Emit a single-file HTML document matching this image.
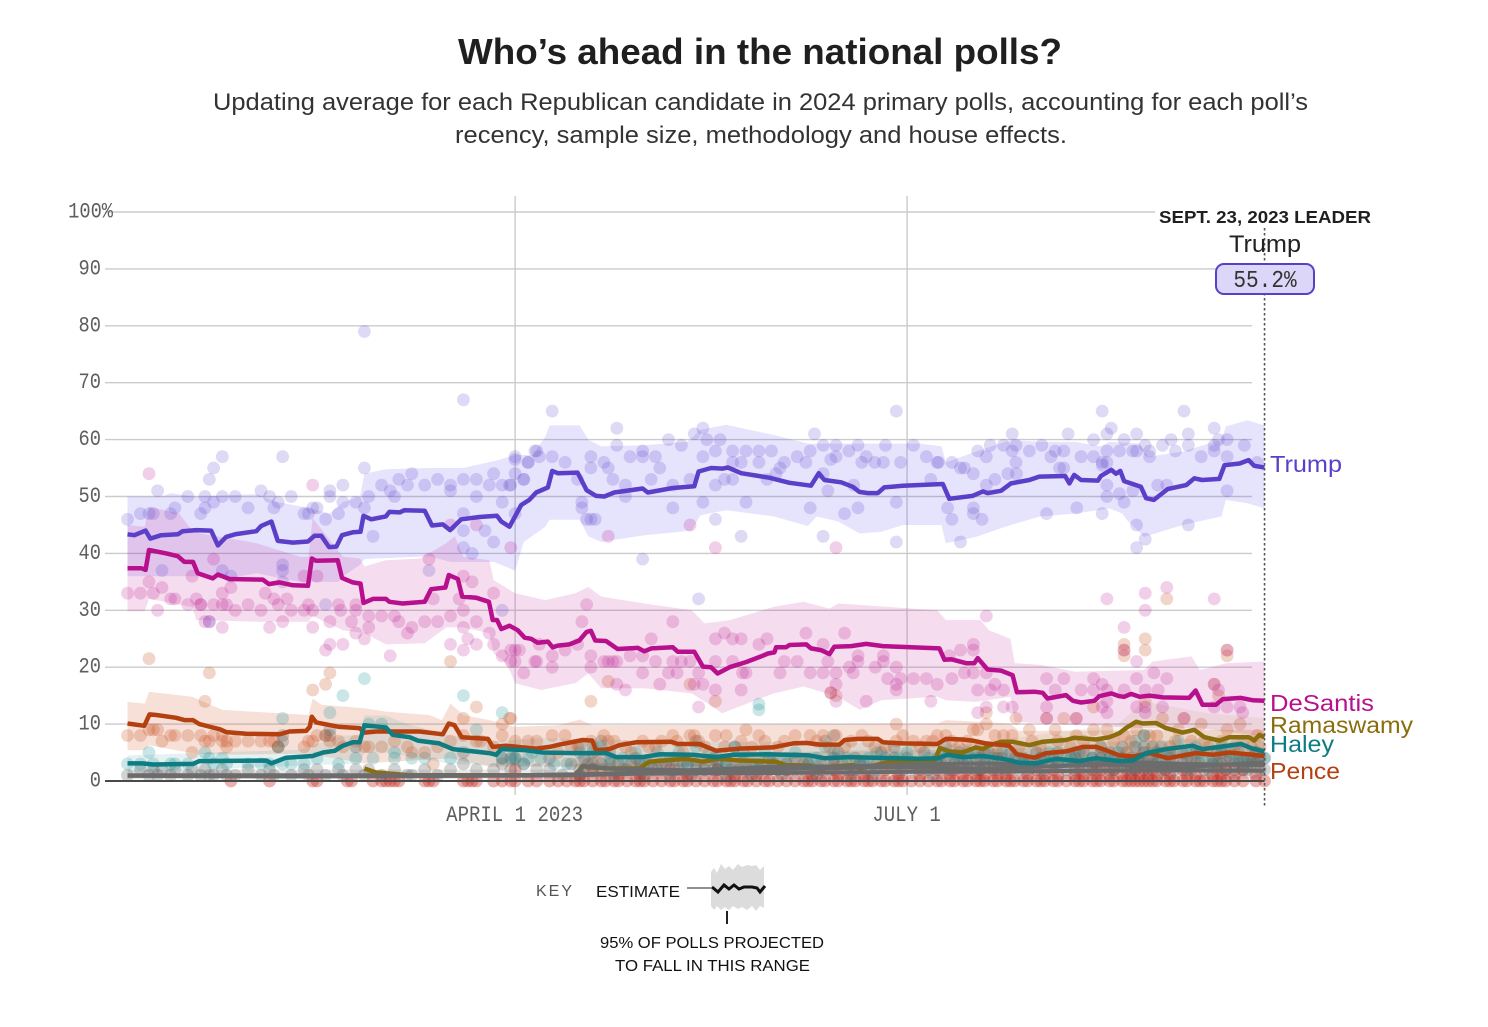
<!DOCTYPE html>
<html lang="en">
<head>
<meta charset="utf-8">
<title>Who's ahead in the national polls?</title>
<style>
html,body{margin:0;padding:0;background:#fff;}
svg{display:block;}
text{font-family:"Liberation Sans",sans-serif;}
.mono{font-family:"Liberation Mono",monospace;}
</style>
</head>
<body>
<svg id="chart" xmlns="http://www.w3.org/2000/svg" width="1488" height="1027" viewBox="0 0 1488 1027">
<text x="458" y="64" font-size="36" font-weight="700" fill="#1f1f1f" textLength="604" lengthAdjust="spacingAndGlyphs">Who’s ahead in the national polls?</text>
<text x="213" y="110" font-size="24" fill="#333" textLength="1095" lengthAdjust="spacingAndGlyphs">Updating average for each Republican candidate in 2024 primary polls, accounting for each poll’s</text>
<text x="455" y="143" font-size="24" fill="#333" textLength="612" lengthAdjust="spacingAndGlyphs">recency, sample size, methodology and house effects.</text>
<g id="grid"></g>
<g id="bands"></g>
<g id="dots"></g>
<g id="lines"></g>
<g id="axis"></g>
<g>
<rect x="1155" y="205" width="220" height="22" fill="#fff"/>
<text x="1159" y="223" font-size="17.5" font-weight="700" fill="#1f1f1f" textLength="212" lengthAdjust="spacingAndGlyphs">SEPT. 23, 2023 LEADER</text>
<text x="1229" y="252" font-size="24" fill="#222" textLength="72" lengthAdjust="spacingAndGlyphs">Trump</text>
<rect x="1216" y="264" width="98" height="30" rx="8" ry="8" fill="#dcd7f8" stroke="#5b3fc8" stroke-width="2"/>
<text class="mono" transform="translate(1265,287) scale(.88,1)" font-size="24" fill="#333" text-anchor="middle">55.2%</text>
</g>
<g>
<text x="1270" y="472" font-size="23.5" fill="#5b3fc8" textLength="72" lengthAdjust="spacingAndGlyphs">Trump</text>
<text x="1270" y="711" font-size="23.5" fill="#b8108c" textLength="104" lengthAdjust="spacingAndGlyphs">DeSantis</text>
<text x="1270" y="733" font-size="23.5" fill="#8a6d0c" textLength="143" lengthAdjust="spacingAndGlyphs">Ramaswamy</text>
<text x="1270" y="752" font-size="23.5" fill="#0e7c80" textLength="64" lengthAdjust="spacingAndGlyphs">Haley</text>
<text x="1270" y="779" font-size="23.5" fill="#b5400f" textLength="70" lengthAdjust="spacingAndGlyphs">Pence</text>
</g>
<g>
<text x="536" y="896" font-size="16" fill="#555" textLength="36">KEY</text>
<text x="596" y="897" font-size="16" fill="#111" textLength="84" lengthAdjust="spacingAndGlyphs">ESTIMATE</text>
<line x1="687" y1="888" x2="711" y2="888" stroke="#222" stroke-width="1"/>
<polygon points="711,872 714,868 717,873 721,864 725,869 729,866 733,870 738,864 742,867 747,865 752,866 756,865 760,870 764,866 764,908 760,906 756,911 752,906 747,910 742,907 738,909 733,906 729,910 725,907 721,910 717,906 714,910 711,906" fill="#dcdcdc"/>
<polyline points="712,887 718,892 724,885 729,889 734,885 739,889 744,887 752,887 757,888 760,892 765,886" fill="none" stroke="#111" stroke-width="3"/>
<line x1="727" y1="911" x2="727" y2="924" stroke="#222" stroke-width="2"/>
<text x="600" y="948" font-size="16" fill="#111" textLength="224" lengthAdjust="spacingAndGlyphs">95% OF POLLS PROJECTED</text>
<text x="615" y="971" font-size="16" fill="#111" textLength="195" lengthAdjust="spacingAndGlyphs">TO FALL IN THIS RANGE</text>
</g>
</svg>
<script>
// Days are counted from Jan. 1, 2023. Values are percent support.
const yTickValues = [0,10,20,30,40,50,60,70,80,90,100];
const yTickLabels = ['0','10','20','30','40','50','60','70','80','90','100%'];
const xTickDays = [90,181];
const xTickLabels = ['APRIL 1 2023','JULY 1'];
const domainEndDay = 264;

const trumpTrend = [[0,43.35],[1.6,43.2],[4.2,44],[5.3,42.6],[7.8,43.2],[11.7,43.35],[12.8,43.9],[16,44.1],[19.4,44],[21,41.4],[22.9,42.9],[25.2,43.4],[29.9,43.9],[31,44.8],[33.4,45.6],[34.9,42.2],[38.4,41.9],[41.9,42.1],[43.4,43.1],[45,43.1],[46.8,41.1],[48.5,41.2],[49.8,43.2],[52.3,43.7],[54.1,43.8],[54.8,46.6],[56.6,46],[60,46.5],[60.8,47.3],[63.2,47.2],[64.3,47.6],[69,47.5],[70.7,44.9],[73.2,45.1],[74.9,44.1],[77.5,46],[81.7,46.4],[85.8,46.6],[86.8,45.6],[88.7,44.7],[91.4,48.5],[93.3,49.4],[94.9,50.7],[97.6,51.6],[98.6,54.5],[99.9,54.1],[104.5,54.2],[106.6,51.1],[108.8,50.1],[110.7,50],[113,50.7],[119.6,51.4],[120.8,50.7],[126.6,51.5],[131.6,51.8],[132.6,54.4],[135.5,55],[138.2,54.9],[139.4,55.1],[142.5,54.1],[149,53.3],[153.7,52.4],[158.7,51.9],[160.5,54.1],[161.8,52.9],[165.7,52.5],[168.4,51.7],[169.9,50.8],[171.9,50.6],[174.2,50.6],[175.7,51.6],[180,51.9],[189.3,52.2],[190.8,49.6],[196.2,50.1],[198.6,50.9],[199.7,50.6],[202.8,51],[205.1,52.3],[209.4,52.9],[211.7,53.5],[217.7,53.6],[218.7,52.3],[219.8,53.8],[221.4,52.9],[225.3,52.8],[226,53.6],[228.4,54.7],[229.5,54],[230.5,54.5],[231.4,52.7],[235.3,51.7],[236.5,49.7],[238.3,49.4],[241.5,51.3],[245.8,52],[247.7,53.2],[249.5,52.9],[253.5,53.1],[254.7,55.5],[258.2,55.8],[260.3,56.4],[261.6,55.4],[264,55.1]];
const desantisTrend = [[0,37.4],[3.2,37.4],[4.2,37.1],[5,40.6],[9,40],[11.7,39.5],[13.2,38.5],[15.2,38.5],[16.3,36.5],[19.8,35.6],[21,36.3],[23.7,35.5],[31.4,35.4],[32.8,34.6],[35.3,34.9],[38.4,34.4],[41.9,34.3],[42.8,39.1],[43.8,38.7],[48.8,38.8],[49.8,35.7],[52.3,34.9],[54.1,34.7],[54.8,31.3],[57,32],[60,32],[60.8,31.5],[63.9,31.2],[69,31.5],[70.5,33.7],[73.8,34],[74.6,36.2],[76.7,35.5],[77.7,32.4],[81,32.2],[83.9,31.5],[84.8,28.3],[85.8,28.3],[86.8,26.7],[88.7,27.3],[90.6,26.5],[92.2,25.2],[93.7,25],[95.2,24.3],[97.6,24.5],[98.7,23.5],[99.9,23.8],[102.6,24],[104.9,24.7],[106.6,26.2],[107.6,26.4],[108.6,24.7],[111.1,24.6],[113.8,23.2],[118.5,23.4],[120,22.8],[121.6,23.3],[126.6,23.5],[127.8,22.7],[131.6,22.7],[133.6,20.1],[135.5,20],[137,18.9],[139.8,20],[143.6,20.9],[147.1,21.9],[148.7,22.4],[150.2,22.6],[150.6,23.5],[152.9,23.5],[153.7,23.9],[157.6,24],[158.7,23.3],[161,23],[163,22.3],[164.1,23.6],[168,23.7],[171.5,24.1],[175.4,23.7],[188.5,23.3],[189.7,21.3],[191.2,21.4],[194.7,20.7],[196.6,20.7],[197.4,21.6],[199.7,19.6],[202.8,19.4],[205.5,18.6],[206.5,15.6],[210.6,15.7],[212.5,15.5],[213.6,14.5],[217.9,15.1],[219.5,14.1],[221.4,13.8],[224.5,14.1],[225.6,14.9],[228.4,15.4],[230.3,14.9],[231.4,14.8],[233,15.3],[235,14.8],[237.3,15],[240.4,14.7],[246.5,14.6],[248,15.9],[249.6,13.4],[252.7,13.4],[254.3,14.4],[258.5,14.6],[261.2,14.2],[264,14.1]];
const penceTrend = [[0,10.1],[3.9,9.7],[5.1,11.7],[6.7,11.6],[11.3,11.1],[13.2,10.7],[15.2,10.7],[16.7,10],[19.8,9.4],[21.4,9.1],[22.9,8.6],[27.6,8.3],[35.3,8.2],[37.6,8.7],[41.5,8.8],[42.3,9.5],[42.8,11.3],[43.8,10.3],[49.2,9.5],[53.9,9.3],[55,8.5],[57.7,8.7],[67.8,8.7],[73.2,8.2],[74.6,10.1],[75.9,9.8],[77.6,7.7],[83.7,7.4],[84.8,6],[87.9,6.2],[91.8,5.9],[94.9,5.7],[98,6],[100.3,6.4],[105.7,7.2],[107.9,7.1],[108.8,5.4],[111.9,5.6],[114.2,6.3],[118.1,6.8],[126.2,6.9],[127.8,6.5],[132.8,6.5],[136.7,5.3],[142.1,5.7],[149.8,5.9],[154.5,6.6],[157.6,6.7],[160.7,6.4],[165.3,6.4],[166.5,7.2],[169.6,7.4],[174.2,7.4],[175.4,6.8],[180,6.6],[188.1,6.5],[190,7.4],[193.9,7.3],[196.2,7.1],[199.3,6.6],[204.7,6.2],[206.5,4.7],[210.6,4.1],[213.3,4.9],[217.9,5.2],[221.8,6],[224.9,6],[227.2,5.4],[230.3,4.5],[233.4,4.3],[237.3,4.9],[241.5,4],[248.1,4.9],[252,4.6],[255.8,5],[261.2,4.6],[264,4.4]];
const haleyTrend = [[0,3.1],[3.5,3.1],[5.9,2.9],[15.2,3],[16.7,3.5],[32.2,3.6],[33.4,3.1],[36.8,4.1],[43,4.4],[45.4,5],[48.1,5.3],[50,6.2],[52.3,6.8],[53.9,6.8],[55,9.8],[60,9.4],[61.6,8.1],[65.5,7.7],[67.4,7.1],[72.4,6.6],[75.5,5.6],[84,4.9],[85.6,4.6],[86.8,5.6],[92.6,5.4],[96.4,5],[103.4,4.9],[111.1,4.9],[113.4,4.2],[119.6,4.2],[123.5,4.7],[131.2,4.6],[136.7,4.2],[140.5,4.6],[148.3,4.7],[158.3,4.5],[161.8,4],[167.6,4.2],[183.85,3.9],[188.1,4],[190.4,4.6],[193.9,4.2],[198.6,4.4],[203.2,3.9],[207.1,3.2],[210.9,3.1],[215.6,3.9],[221,3.5],[224.9,4],[230.3,3.5],[233.4,3.6],[236.5,4.9],[241.1,5.6],[247.3,6.2],[249.6,5.6],[253.5,6],[258.5,6.5],[261.2,5.7],[264,5.2]];
const ramaswamyTrend = [[55,2.2],[57.7,1.5],[65.5,1],[81,1],[95.7,1],[104.1,1.1],[105.7,2.6],[111.1,2.2],[118.9,2.2],[121.2,3.4],[129.7,3.9],[133.6,3.4],[137.4,3.9],[142.1,3.6],[150.6,3.4],[152.9,2.8],[158.7,2.7],[159.9,2],[164.5,2.6],[168.4,2.8],[169.9,2.2],[173.8,2.8],[176,3.2],[183,3.4],[187.5,3.7],[188.6,5.8],[190.8,5.2],[193.9,5],[197,5.9],[198.6,5.6],[200,6.2],[202.8,6.9],[205.5,6.9],[209.4,6.3],[212.5,6.9],[217.9,7.2],[219.8,7.6],[224.9,7.3],[228,7.7],[230.3,8.4],[231.8,9.3],[234.2,10.4],[235.7,10.1],[238.8,10.2],[241.1,9.3],[245,8.5],[247.7,9],[250,7.7],[253.5,7.1],[255.8,7.7],[260.4,7.7],[261.6,7.1],[262.8,8.1],[264,7.7]];
const otherTrendA = [[0,1],[30,1],[60,1],[90,1],[104,1.2],[106,2.6],[112,2.2],[118,2.1],[130,1.9],[150,2.5],[157,2.6],[165,2.5],[180,2.9],[200,3.1],[215,2.5],[230,3.4],[245,3],[264,2.8]];
const otherTrendB = [[0,0.9],[40,0.8],[80,0.9],[104,1],[120,1.3],[150,1.4],[180,1.6],[210,1.7],[240,1.9],[264,1.8]];
const otherTrendC = [[105,1.2],[125,1.6],[150,2.1],[175,2.4],[200,2.2],[225,2.9],[245,2.4],[264,3.3]];

const trumpBandUpper = [[0,50],[8,50],[10,50.6],[15,50],[30,50.4],[35,49],[42,48],[47,47],[50,49],[54,50],[55,54],[60,54.8],[70,55],[78,55],[86,56.4],[90,57.3],[94,57.3],[97,60.5],[98,62.5],[105,62.5],[107,60],[110,58.8],[120,59],[130,59.6],[133,61.7],[139,62.6],[150,60.8],[158,59.3],[165,59.3],[175,59.3],[184,59.3],[189,58.8],[190,56],[197,57.9],[205,59.9],[212,59.6],[220,59.6],[226,58.8],[228,59.6],[235,59.3],[237,57],[245,57.9],[254,60],[255,62.3],[260,63.4],[264,62.5]];
const trumpBandLower = [[0,36],[4,36],[15,36],[20,36],[22,35.5],[30,36.5],[40,35],[45,35],[49,35],[50,36],[54,38],[55,39],[70,39.5],[75,38.5],[85,38.5],[90,37],[92,42],[97,44.7],[98,45.9],[105,45.9],[107,43],[110,42],[120,43.2],[131,44],[133,46.7],[139,47.6],[150,46.5],[158,44.8],[160,46.5],[165,45.6],[170,43.5],[175,43.8],[180,45],[189,45],[190,41.8],[197,42.9],[205,45],[212,46.5],[220,47],[228,47.9],[231,47],[232,45.9],[236,42.9],[245,45],[254,46.5],[255,49.4],[260,48.8],[264,47.9]];
const desantisBandUpper = [[0,45],[4,44.7],[5,48.2],[12,47],[15,44],[17,43.5],[30,41.8],[40,39.4],[42,39.4],[43,46.2],[50,39.4],[54,39.1],[55,37.7],[60,38.8],[68,39.1],[74,41.8],[76,43],[78,39.4],[84,38.8],[85,35.3],[90,33],[97,31.8],[104,33],[107,34.1],[110,32.4],[120,31.2],[131,30],[134,27.7],[140,28.3],[150,30.6],[157,31.5],[163,30.3],[165,31.2],[188,30],[190,28.3],[198,28.3],[200,26.5],[205,25],[206,20.7],[212,20.4],[220,19.2],[236,19.5],[238,21],[247,21.9],[249,19.5],[255,20.7],[264,21]];
const desantisBandLower = [[0,29.8],[4,29.8],[5,32],[15,30.6],[16,28.3],[30,28],[42,28],[43,29],[50,26.5],[55,26],[60,24],[69,24.2],[74,27],[78,27],[84,26],[85,22.4],[88,20.7],[90,17.2],[96,16],[104,17.2],[107,18.9],[110,16.3],[120,16.3],[131,15.4],[136,13],[138,11.9],[150,15.4],[157,16.6],[165,14.8],[170,12.5],[175,14.2],[188,14.8],[190,14.2],[197,13.9],[205,14.8],[206,10.4],[212,10.1],[236,9.3],[249,9.3],[264,7.8]];
const penceBandUpper = [[0,13.9],[4,13.6],[5,15.7],[15,14.8],[22,12.5],[42,11.6],[43,14.5],[45,13.4],[55,12.8],[60,12.2],[70,11.6],[73,10.7],[75,13.6],[78,11.6],[84,10.7],[90,9.5],[100,9.8],[105,10.8],[108,9.8],[188,10.1],[190,10.7],[205,10.1],[207,8.8],[264,9]];
const penceBandLower = [[0,5.4],[4,5.4],[5,6.3],[15,4.9],[22,4.6],[42,4.8],[55,3.1],[75,4],[84,2.5],[188,2.8],[205,2.5],[264,1.9]];
const haleyBandUpper = [[0,4.5],[40,5.5],[50,8],[54,8],[55,11.5],[60,11.5],[65,10],[75,8],[85,7],[95,7.5],[130,7],[190,6.5],[236,7],[264,8]];
const haleyBandLower = [[0,1.5],[50,3],[54,3],[55,5],[60,5],[75,3],[100,2.5],[264,2.5]];
const ramaswamyBandUpper = [[105,4],[150,5],[190,6],[230,10],[236,14],[250,12],[264,11]];
const ramaswamyBandLower = [[105,0.5],[150,0.8],[190,1],[230,3],[236,5],[250,3],[264,3]];
const otherBandUpper = [[0,2],[100,2],[105,4.5],[150,5],[190,5.5],[230,6],[264,6]];
const otherBandLower = [[0,0.3],[100,0.3],[105,0.3],[190,0.3],[264,0.5]];

const trumpPolls = [[0,46],[3,47],[5,47],[6,47],[7,51],[10,47],[11,48],[14,50],[17,47],[18,48],[19,53],[20,55],[22,57],[18,50],[20,49],[22,50],[25,50],[28,48],[31,51],[33,50],[34,48],[35,49],[36,57],[38,50],[41,47],[42,47],[43,48],[44,48],[46,46],[47,51],[47,50],[49,47],[50,52],[50,49],[53,49],[55,55],[55,48],[56,50],[57,43],[55,79],[59,52],[61,51],[62,50],[63,53],[65,52],[66,54],[69,52],[72,53],[75,52],[75,51],[78,47],[78,44],[78,53],[81,53],[81,50],[83,44],[84,52],[85,42],[85,54],[87,52],[87,49],[89,52],[90,57],[90,54],[90,47],[93,56],[92,53],[95,58],[78,67],[8,37],[22,37],[24,36],[36,38],[36,37],[36,35],[46,31],[19,28],[87,30],[70,37],[78,41],[80,40],[98.6,65],[88.7,52],[90,56.5],[92,53],[93,56],[94.6,58],[95.6,57],[98.6,57],[101.6,56],[104.5,53],[107.6,57],[107.6,55],[110.6,56],[111.6,55],[112.7,53],[115.6,52],[115.6,50],[105.5,49],[105.5,48],[106.6,46],[108.6,46],[107.6,46],[113.6,62],[113.6,59],[116.7,57],[119.6,58],[119.6,57],[122.6,57],[123.6,55],[121.6,53],[125.6,60],[128.6,59],[126.6,52],[126.6,48],[130.6,53],[133.6,57],[131.6,61],[133.6,62],[134.5,60],[137.6,60],[136.5,58],[136.5,52],[133.6,49],[136.5,46],[140.5,58],[140.5,56],[142.5,56],[143.6,58],[138.6,53],[140.5,53],[143.6,49],[142.5,43],[146.6,58],[146.6,56],[149.5,58],[152.5,56],[151.5,55],[150.6,54],[148.5,53],[155.5,57],[158.5,58],[157.5,56],[159.5,61],[161.5,59],[164.5,59],[164.5,57],[163.3,56.5],[161.5,54],[162.6,51],[158.5,48],[161.5,43],[166.5,47],[167.5,58],[169.6,59],[170.5,56],[171.5,57],[173.5,56],[175.5,56],[176,59],[178.5,65],[168.6,52],[169.6,48],[178.5,49],[178.5,42],[179.5,56],[182.5,59],[185.5,57],[186.5,53],[188,56],[119.6,39],[132.6,32],[226.3,65],[245.3,65],[205.4,61],[218.4,61],[228.4,62],[234.3,61],[246.3,61],[252.3,62],[227.4,61],[224.3,60],[188.3,56],[191.4,56],[193.4,55],[194.3,55],[196.4,54],[197.4,58],[199.4,57],[200.3,59],[203.4,59],[205.4,58],[206.3,59],[206.3,56],[204.4,54],[206.4,54],[201.4,53],[199.4,52],[209.4,58],[212.3,59],[214.4,57],[215.4,58],[217.4,58],[216.4,55],[217.4,55],[221.4,57],[224.3,57],[226.3,56],[227.4,58],[230.3,58],[227.4,56],[227.4,52],[227.4,50],[226.3,55.5],[231.4,60],[233.4,58],[234.3,58],[236.3,59],[237.3,58],[237.3,57],[240.3,59],[242.3,60],[243.3,58],[246.3,59],[249.3,57],[252.3,59],[252.3,58],[253.3,60],[255.3,60],[259.3,59],[255.3,57],[262.3,56],[239.2,52],[241.3,52],[230.3,50.5],[231.4,49],[233.4,51],[190.4,48],[191.4,46],[196.4,48],[196.4,47],[198.4,46],[193.4,42],[213.4,47],[220.4,48],[226.3,47],[234.3,45],[236.3,42.5],[234.3,41],[246.3,45],[255.3,51]];
const desantisPolls = [[5,54],[0,33],[3,33],[5,35],[6,33],[8,34],[7,30],[10,32],[11,32],[14,31],[15,36],[16,32],[17,31],[17,31],[18,28],[19,28],[20,39],[20,31],[22,33],[22,31],[22,27],[23,31],[24,34],[25,30],[28,31],[31,30],[32,33],[34,32],[35,31],[37,32],[36,28],[33,27],[38,30],[41,30],[42,31],[43,30],[43,27],[41,36],[44,36],[43,52],[46,23],[47,24],[50,24],[47,28],[49,31],[49.5,30],[52,28],[53,31],[53,30],[53,26],[55,25],[56,29],[56,27],[59,29],[62,29],[63,28],[65,26],[66,27],[69,28],[72,28],[61,22],[75,29],[75,24],[78,23],[78,36],[80,35],[77,32],[78,30],[78,27],[79,25],[81,28],[81,24],[75,45],[81,45],[84,26],[85,24],[85,33],[87,22],[89,23],[89,21],[90,23],[90,21],[91,23],[92,19],[95,21],[89,41],[70,39],[71,32],[94.6,21],[95.6,24],[98.6,22],[98.6,20],[101.6,23],[104.5,24],[105.5,28],[106.6,31],[107.6,22],[107.6,20],[110.6,21],[111.6,21],[112.7,21],[113.6,21],[111.6,43],[113.6,17],[115.6,16],[116.7,22],[119.6,22],[119.6,19],[121.6,25],[122.6,21],[123.6,17],[125.6,19],[126.6,21],[126.6,28],[127.6,19],[128.6,21],[130.6,21],[130.6,45],[131.6,17],[133.6,17],[132.6,13],[132.6,19],[136.5,41],[136.5,25],[136.5,21],[136.5,16],[138.6,26],[140.5,25],[142.5,25],[140.5,21],[142.8,19],[143.6,19],[142.5,16],[146.6,24],[148.5,25],[152.5,21],[151.5,19],[155.5,21],[157.5,26],[158.5,19],[161.5,24],[161.5,19],[162.6,21],[164.5,19],[164.5,17],[163.3,15.5],[164.5,14],[166.5,26],[164.5,41],[167.6,20],[168.5,19],[169.6,21],[169.6,22],[171.5,14],[173.6,20],[175.5,22],[175.5,21],[176.5,18],[178.5,20],[178.5,17],[178.5,16],[179.5,18],[182.5,18],[185.5,18],[186.5,14],[188,17],[191.4,18],[190.8,22],[193.4,23],[194.3,19],[196.4,24],[196.4,23],[196.4,19],[197.4,16],[199.4,29],[199.4,19],[200.4,16],[201.4,17],[203.4,16],[203.4,13],[205.4,13],[199.4,13],[197.4,12],[213.4,18],[217.4,18],[215.4,16],[213.4,13],[213.4,11],[221.4,16],[220.3,11],[224.3,18],[224.3,16],[226.3,17],[227.4,32],[227.4,16],[227.4,14],[226.3,13],[227.4,12],[231.4,27],[231.4,16],[231.4,23],[236.3,33],[236.3,30],[234.3,21],[234.3,18],[238.3,19],[241.3,18],[239.3,16],[241.3,34],[236.3,16],[236.3,13],[236.3,12],[234.3,13],[240.3,13],[245.3,11],[252.3,32],[252.3,17],[253.3,16],[255.3,23],[252.3,13],[258.3,13],[258.9,12],[255.3,13]];
const pencePolls = [[5,21.5],[19,19],[18,14],[43,16],[46,17],[47,19],[75,21],[81,13],[0,8],[3,8],[5,9],[6,9],[7,9],[8,7],[10,8],[11,8],[14,8],[15,5],[17,8],[18,7],[19,7],[20,8],[22,8],[22,7],[23,6],[23,7],[25,7],[28,7],[31,7],[33,7],[34,7],[35,6],[41,6],[42,7],[43,7],[44,8],[46,8],[47,7],[49,7],[50,6],[53,7],[55,6],[56,6],[59,6],[62,7],[65,6],[66,5],[69,5],[71,3],[72,6],[75,7],[78,11],[78,8],[87,10],[87,8],[89,11],[85,6],[81,7],[82,7],[90,7],[93,7],[95,7],[107.6,14],[111.6,17.5],[88.7,11],[98.6,8],[101.6,8],[104.5,6],[107.6,7],[110.6,8],[111.6,7],[115.6,6],[119.6,7],[122.6,6],[126.6,8],[127.6,7],[130.6,8],[131.6,8],[132.6,7],[136.5,8],[136.5,14],[130.6,17],[138.6,6],[143.6,9],[142.5,7],[146.6,8],[152.5,7],[158.5,8],[161.5,8],[164.5,8],[164.5,15],[163.3,15.5],[166.5,6],[170.5,8],[173.5,6],[178.5,10],[178.5,7],[182.5,7],[185.5,7],[188,8],[191.4,7],[196.4,9],[199.4,12],[197.4,9],[199.4,10],[201.4,8],[203.4,8],[205.4,8],[206.3,11],[209.4,9],[213.4,11],[215.4,9],[217.4,11],[220.3,11],[220.3,8],[224.3,13],[224.3,9],[227.4,9],[231.4,24],[231.4,23],[231.4,22],[236.3,25],[236.3,23],[241.3,32],[231.4,8],[234.3,9],[236.3,14],[237.3,8],[240.3,11],[243.3,7],[245.3,11],[249.3,10],[252.3,17],[253.3,15],[255.3,23],[255.3,22],[255.3,9],[258.3,10],[262.3,8],[100,5],[103,6],[109,5],[113,7],[117,5],[121,6],[124,7],[129,5],[134,6],[139,8],[145,6],[148,7],[151,6],[155,8],[160,7],[163,6],[168,7],[172,7],[176,6],[180,8],[184,6],[187,7],[190,8],[193,6],[195,7],[198,6],[202,5],[207,6],[210,7],[212,6],[216,7],[219,6],[222,7],[226,6],[229,7],[232,5],[233,7],[238,6],[239,8],[242,6],[244,9],[247,7],[250,7],[251,6],[254,7],[257,6],[259,7],[261,6],[263,6]];
const haleyPolls = [[0,3],[5,5],[3,3],[6,3],[10,3],[11,3],[14,3],[18,5],[19,4],[20,3],[22,4],[23,3],[28,3],[31,3],[33,3],[36,11],[35,6],[36,3],[38,3],[41,3],[44,4],[49,3],[50,15],[47,12],[55,18],[53,4],[57,4],[62,4],[66,4],[69,4],[75,4],[78,15],[87,12],[87,4],[81,9],[89.5,4],[93,4],[56,10],[59,10],[62,5],[146.6,13.5],[146.6,12.5],[90,4],[92,3],[94,5],[96,4],[99,3],[102,3],[105,5],[108,6],[110,6],[112,4],[115,4],[118,5],[120,3],[123,5],[126,4],[128,5],[130,3],[132,6],[135,5],[137,4],[139,3],[141,6],[143,4],[146,3],[148,5],[150,4],[153,4],[155,5],[158,3],[160,4],[162,6],[164,5],[167,4],[170,3],[172,4],[174,5],[176,4],[179,4],[181,5],[183,3],[186,4],[188,3],[190,5],[192,4],[195,4],[197,5],[199,3],[201,4],[203,5],[205,3],[207,4],[210,3],[212,4],[214,5],[216,3],[218,4],[220,5],[222,3],[224,4],[226,6],[228,4],[230,5],[232,3],[234,7],[236,8],[238,6],[240,4],[242,5],[244,7],[246,5],[248,6],[250,4],[252,3],[254,6],[256,5],[258,4],[260,3],[262,5],[264,4]];
const otherPolls = [[0,1],[3,2],[5,1],[6,2],[7,1],[8,2],[10,1],[11,2],[14,1],[15,2],[17,1],[18,2],[19,1],[20,1],[22,2],[23,1],[25,1],[28,2],[31,1],[33,2],[34,1],[36,7],[36,8],[35,6],[38,1],[41,2],[42,1],[44,2],[46,1],[46,8],[47,9],[47,8],[49,2],[50,1],[53,2],[53,6],[55,1],[56,2],[59,1],[62,2],[65,1],[66,1],[69,2],[72,1],[75,2],[78,3],[78,5],[81,2],[85,2],[87,3],[87,4],[89,2],[89,4],[90,4],[92,3],[95,2],[98,2],[98,4],[101,1],[103,3],[105,2],[105,6],[106,4],[107,3],[108,2],[108,5],[110,3],[110,7],[112,2],[112,5],[114,3],[116,2],[118,4],[119,2],[121,3],[123,2],[125,3],[127,4],[128,2],[130,3],[132,7],[132,2],[134,3],[136,4],[137,2],[139,3],[141,6],[142,2],[143,5],[145,3],[147,2],[149,4],[151,2],[153,3],[155,4],[157,3],[159,2],[161,3],[162,7],[164,8],[164,3],[165,5],[167,2],[169,4],[170,3],[172,2],[174,3],[175,5],[177,3],[178,6],[179,2],[181,4],[183,3],[185,5],[186,2],[188,4],[189,3],[190,6],[191,2],[193,4],[194,3],[195,5],[197,2],[198,4],[199,3],[200,5],[202,2],[203,4],[204,3],[205,5],[207,2],[208,4],[209,3],[211,5],[212,2],[213,4],[215,3],[216,5],[218,2],[219,4],[220,3],[221,5],[223,2],[224,4],[225,3],[226,5],[228,2],[229,4],[230,3],[231,6],[233,2],[233,4],[234,6],[235,3],[236,5],[236,8],[237,2],[238,4],[239,3],[240,6],[241,2],[242,4],[243,3],[245,5],[246,2],[247,4],[248,3],[249,5],[251,2],[252,4],[253,3],[254,5],[255,2],[256,4],[257,3],[258,5],[259,2],[260,4],[261,3],[262,5],[263,2],[264,4]];
const otherPollsDense = [[105,1],[106,2],[108,3],[110,2],[112,3],[113,1],[115,2],[117,3],[119,3],[120,1],[122,2],[124,3],[126,1],[127,2],[129,3],[131,1],[132,3],[134,2],[136,2],[137,3],[139,1],[140,2],[142,3],[144,2],[145,1],[147,3],[149,2],[150,3],[152,1],[154,2],[156,2],[158,3],[160,1],[161,2],[163,2],[164,4],[166,3],[168,1],[169,2],[171,3],[173,1],[174,2],[176,3],[178,3],[178,4],[180,2],[182,3],[184,2],[185,3],[187,1],[188,3],[190,2],[190,4],[192,3],[193,5],[195,3],[197,4],[198,2],[199,5],[201,3],[202,4],[204,2],[205,3],[206,4],[208,3],[209,2],[211,3],[212,4],[213,2],[215,4],[216,3],[218,3],[220,2],[220,4],[221,3],[222,5],[224,3],[225,2],[226,4],[227,3],[228,5],[229,2],[231,3],[231,4],[233,3],[234,2],[235,4],[236,3],[236,6],[237,4],[238,3],[239,5],[240,2],[241,3],[242,5],[243,2],[245,3],[246,4],[247,2],[248,5],[249,3],[250,2],[252,3],[253,5],[254,3],[255,4],[257,2],[258,3],[259,4],[260,2],[261,4],[262,3],[263,4],[264,2]];
const zeroPolls = [[24,0],[33,0],[43,0],[44,0],[51,0],[52,0],[57,0],[59,0],[60,0],[61,0],[62,0],[63,0],[69,0],[70,0],[71,0],[78,0],[79,0],[80,0],[81,0],[85,0],[87,0],[89,0],[90,0],[93,0],[95,0],[98,0],[100,0],[102,0],[104,0],[105,0],[106,0],[108,0],[110,0],[111,0],[113,0],[114,0],[116,0],[118,0],[119,0],[120,0],[122,0],[124,0],[126,0],[127,0],[129,0],[130,0],[132,0],[134,0],[136,0],[137,0],[139,0],[140,0],[141,0],[143,0],[144,0],[146,0],[148,0],[149,0],[151,0],[153,0],[155,0],[157,0],[158,0],[159,0],[161,0],[162,0],[164,0],[165,0],[167,0],[168,0],[169,0],[171,0],[172,0],[173,0],[175,0],[176,0],[178,0],[179,0],[180,0],[182,0],[184,0],[186,0],[188,0],[189,0],[191,0],[192,0],[194,0],[195,0],[197,0],[198,0],[199,0],[201,0],[202,0],[204,0],[205,0],[206,0],[208,0],[209,0],[211,0],[212,0],[213,0],[215,0],[216,0],[218,0],[220,0],[221,0],[222,0],[224,0],[225,0],[226,0],[228,0],[229,0],[231,0],[232,0],[233,0],[234,0],[235,0],[236,0],[237,0],[238,0],[239,0],[241,0],[242,0],[243,0],[245,0],[246,0],[248,0],[249,0],[250,0],[252,0],[253,0],[254,0],[255,0],[257,0],[259,0],[262,0],[264,0],[90,2],[105,1],[108,2],[114,1],[119,1],[126,2],[130,1],[137,2],[141,1],[146,1],[153,2],[159,1],[164,2],[165,1],[168,2],[171,1],[176,2],[179,1],[184,1],[188,2],[191,1],[192,2],[194,1],[195,2],[197,1],[198,2],[199,1],[201,2],[202,1],[204,1],[205,2],[209,1],[211,2],[213,1],[215,2],[216,1],[220,1],[221,2],[222,1],[224,2],[225,1],[226,2],[228,1],[229,2],[231,1],[232,2],[233,1],[234,2],[235,1],[236,2],[237,1],[238,2],[239,1],[241,2],[242,1],[245,2],[246,1],[248,1],[252,1],[253,2],[254,1],[255,2],[257,1],[259,2],[262,1]];

const x0 = 127.5, xScale = 4.307;
const yZero = 781, yScale = 5.69;
const NS = 'http://www.w3.org/2000/svg';
function xAxis(day){ return x0 + day * xScale; }
function yAxis(v){ return yZero - v * yScale; }
function pathFrom(points){ return points.map(function(p){ return xAxis(p[0]).toFixed(1) + ',' + yAxis(p[1]).toFixed(1); }).join(' '); }
function make(tag, parent){ const el = document.createElementNS(NS, tag); parent.appendChild(el); return el; }

const grid = document.getElementById('grid');
const axis = document.getElementById('axis');
const bandsLayer = document.getElementById('bands');
const dotsLayer = document.getElementById('dots');
const linesLayer = document.getElementById('lines');

yTickValues.forEach(function(v, i){
  if (v !== 0) {
    const line = make('line', grid);
    
    
    line.setAttribute('x1', 105);
    line.setAttribute('x2', 1252);
    line.setAttribute('y1', yAxis(v));
    line.setAttribute('y2', yAxis(v));
    line.setAttribute('stroke', '#cbcbce');
    line.setAttribute('stroke-width', 1.4);
  }
  const label = make('text', axis);
  
  
  label.setAttribute('class', 'mono');
  label.setAttribute('font-size', 22);
  label.setAttribute('fill', '#5e5e5e');
  label.setAttribute('text-anchor', 'end');
  const lx = yTickLabels[i].indexOf('%') >= 0 ? 113 : 101;
  label.setAttribute('transform', 'translate(' + lx + ',' + (yAxis(v) + 5.5) + ') scale(.85,1)');
  label.textContent = yTickLabels[i];
});
xTickDays.forEach(function(d, i){
  const line = make('line', grid);
  
  
  line.setAttribute('x1', xAxis(d));
  line.setAttribute('x2', xAxis(d));
  line.setAttribute('y1', 196);
  line.setAttribute('y2', 795);
  line.setAttribute('stroke', '#cbcbce');
  line.setAttribute('stroke-width', 1.4);
  const label = make('text', axis);
  
  
  label.setAttribute('class', 'mono');
  label.setAttribute('font-size', 22);
  label.setAttribute('fill', '#5e5e5e');
  label.setAttribute('text-anchor', 'middle');
  label.setAttribute('transform', 'translate(' + (xAxis(d) - 0.5) + ',821) scale(.865,1)');
  label.textContent = xTickLabels[i];
});
const baseline = make('line', axis);


baseline.setAttribute('x1', 105);
baseline.setAttribute('x2', xAxis(domainEndDay));
baseline.setAttribute('y1', yAxis(0));
baseline.setAttribute('y2', yAxis(0));
baseline.setAttribute('stroke', '#4a4a4a');
baseline.setAttribute('stroke-width', 2);
const endLine = make('line', axis);


endLine.setAttribute('x1', xAxis(domainEndDay));
endLine.setAttribute('x2', xAxis(domainEndDay));
endLine.setAttribute('y1', 228);
endLine.setAttribute('y2', 808);
endLine.setAttribute('stroke', '#555');
endLine.setAttribute('stroke-width', 1.6);
endLine.setAttribute('stroke-dasharray', '2.5 2.5');

const bandSet = [
  {upper: trumpBandUpper, lower: trumpBandLower, color: '#5a40f0', alpha: .15},
  {upper: desantisBandUpper, lower: desantisBandLower, color: '#c12495', alpha: .16},
  {upper: penceBandUpper, lower: penceBandLower, color: '#d2643c', alpha: .2},
  {upper: haleyBandUpper, lower: haleyBandLower, color: '#0e7c80', alpha: .1},
  {upper: ramaswamyBandUpper, lower: ramaswamyBandLower, color: '#8a6d0c', alpha: .08},
  {upper: otherBandUpper, lower: otherBandLower, color: '#666666', alpha: .14}
];
bandSet.forEach(function(s){
  const poly = make('polygon', bandsLayer);
  
  
  poly.setAttribute('points', pathFrom(s.upper) + ' ' + pathFrom(s.lower.slice().reverse()));
  poly.setAttribute('fill', s.color);
  poly.setAttribute('fill-opacity', s.alpha);
});

const dotSet = [
  {polls: zeroPolls, color: '#c4281e', alpha: .36},
  {polls: otherPollsDense, color: '#555555', alpha: .26},
  {polls: otherPolls, color: '#555555', alpha: .26},
  {polls: haleyPolls, color: '#0e8c90', alpha: .22},
  {polls: pencePolls, color: '#c9501c', alpha: .24},
  {polls: desantisPolls, color: '#b8108c', alpha: .2},
  {polls: trumpPolls, color: '#5b3fc8', alpha: .2}
];
dotSet.forEach(function(s){
  s.polls.forEach(function(p){
    const dot = make('circle', dotsLayer);
    
    
    dot.setAttribute('cx', xAxis(p[0]).toFixed(1));
    dot.setAttribute('cy', yAxis(p[1]).toFixed(1));
    dot.setAttribute('r', 6.4);
    dot.setAttribute('fill', s.color);
    dot.setAttribute('fill-opacity', s.alpha);
  });
});

const lineSet = [
  {points: ramaswamyTrend, color: '#8a6d0c', w: 4.5},
  {points: otherTrendB, color: '#6c6c6c', w: 4},
  {points: otherTrendC, color: '#6c6c6c', w: 4},
  {points: otherTrendA, color: '#6c6c6c', w: 4},
  {points: penceTrend, color: '#b5400f', w: 4.5},
  {points: haleyTrend, color: '#0e7c80', w: 4.5},
  {points: desantisTrend, color: '#b8108c', w: 4.5},
  {points: trumpTrend, color: '#5b3fc8', w: 4.5}
];
lineSet.forEach(function(s){
  const line = make('polyline', linesLayer);
  
  
  line.setAttribute('points', pathFrom(s.points));
  line.setAttribute('fill', 'none');
  line.setAttribute('stroke', s.color);
  line.setAttribute('stroke-width', s.w);
  line.setAttribute('stroke-linejoin', 'round');
});
</script>
</body>
</html>
